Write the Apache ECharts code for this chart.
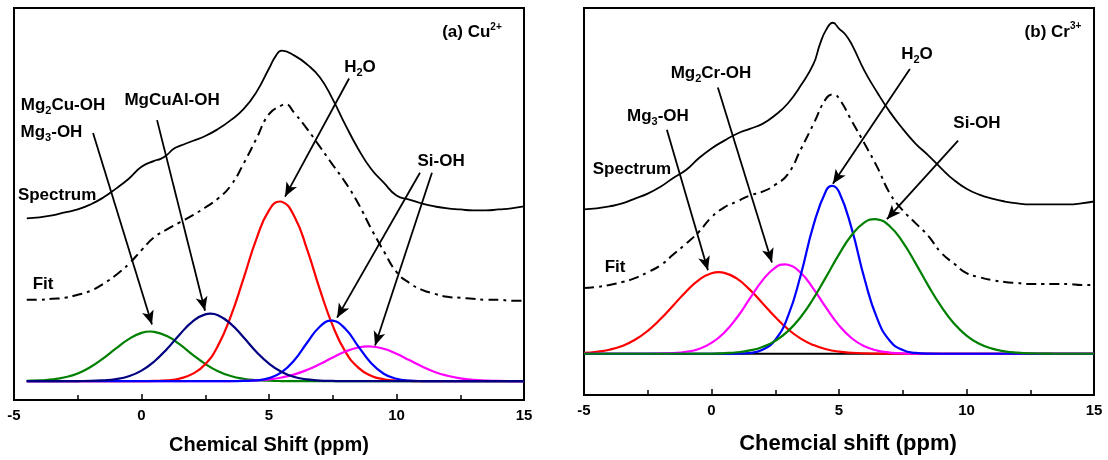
<!DOCTYPE html>
<html><head><meta charset="utf-8">
<script src="https://cdn.jsdelivr.net/npm/echarts@6/dist/echarts.min.js"></script>
<style>html,body{margin:0;padding:0;background:#fff}#c{width:1108px;height:460px}</style>
</head><body><div id="c"></div>
<script>
// ---------- Panel (a) Cu2+ : chemical shift grid (ppm) ----------
const xA = [-4.5,-4,-3.5,-3,-2.5,-2,-1.5,-1,-0.5,0,0.5,1,1.5,2,2.5,3,3.5,4,4.5,5,5.5,6,6.5,7,7.5,8,8.5,9,9.5,10,10.5,11,11.5,12,12.5,13,13.5,14,14.5,15];
const spectrumA = [183,184,186,189,192,197,204,213,223,235,241,247,256,261,266,273,282,293,310,334,352,347,338,325,303,277,253,233,219,206,202,198,195,193,192,191,191,192,193,195];
const fitA = [101,101,102,103,106,110,117,126,137,151,164,172,179,186,194,203,216,238,263,288,297,289,273,255,237,219,198,173,150,129,118,111,107,104,103,102,101,101,100,100];
const mg3OHA = [19.2,19.7,20.7,22.9,26.8,33.2,41.9,52.0,61.4,67.6,68.7,64.4,56.0,45.8,36.4,29.0,24.2,21.4,20.0,19.4,19.1,19,19,19,19,19,19,19,19,19,19,19,19,19,19,19,19,19,19,19];
const mgCuAlOHA = [19,19,19,19,19.1,19.2,19.8,21.1,24.0,29.6,38.8,51.5,66.1,79.0,86.3,85.4,76.7,63.2,48.7,36.6,28.2,23.2,20.7,19.6,19.2,19,19,19,19,19,19,19,19,19,19,19,19,19,19,19];
const h2oA = [19,19,19,19,19,19,19,19,19,19,19.2,19.8,21.6,26.3,36.0,54.8,84.2,122.3,161.8,191.1,199.8,184.6,151.2,111.0,74.9,48.5,32.6,24.5,20.9,19.6,19.2,19,19,19,19,19,19,19,19,19];
const siOH1A = [19,19,19,19,19,19,19,19,19,19,19,19,19,19,19,19,19,19.2,19.8,22.0,28.1,40.3,57.9,74.1,79.9,71.5,54.1,37.4,26.5,21.4,19.6,19.1,19,19,19,19,19,19,19,19];
const siOH2A = [19,19,19,19,19,19,19,19,19,19,19,19,19,19,19,19,19.1,19.3,19.8,20.8,22.7,25.8,30.4,36.3,42.9,48.9,52.9,53.9,51.6,46.6,40.2,33.8,28.3,24.4,21.8,20.3,19.6,19.2,19.1,19];
// extra readings near peaks / kinks (x, y)
const extraSpectrumA = [[0.75, 243], [1.25, 253], [5.25, 346]];
const extraFitA = [[5.65, 298]];
const extraMg3OHA = [[0.35, 69]];
const extraMgCuAlOHA = [[2.7, 87]];
const extraH2oA = [[5.43, 200]];
const extraSiOH1A = [[7.45, 80]];
const extraSiOH2A = [[8.9, 54]];

// ---------- Panel (b) Cr3+ ----------
const xB = [-5,-4.5,-4,-3.5,-3,-2.5,-2,-1.5,-1,-0.5,0,0.5,1,1.5,2,2.5,3,3.5,4,4.5,5,5.5,6,6.5,7,7.5,8,8.5,9,9.5,10,10.5,11,11.5,12,12.5,13,13.5,14,14.5,15];
const spectrumB = [189,190,192,195,200,205,212,221,229,241,251,259,266,271,276,285,297,315,337,372,373,357,330,308,288,271,256,244,231,219,210,204,200,197,195,194,194,194,194,195,197];
const fitB = [109,110,112,115,119,125,132,143,154,166,181,191,197,203,207,214,225,250,276,302,302,279,256,232,205,188,175,162,145,134,124,120,117,115,114,113,113,113,113,112,112];
const mg3OHB = [42.9,44.0,46.1,49.9,56.2,65.3,77.3,91.2,105.2,117.0,123.9,124.4,118.4,107.3,93.5,79.4,67.0,57.4,50.8,46.6,44.2,43.0,42.4,42.2,42,42,42,42,42,42,42,42,42,42,42,42,42,42,42,42,42];
const mg2CrOHB = [42,42,42,42,42,42,42.2,42.7,44.0,46.9,53.0,63.5,78.9,98.0,116.7,129.7,132.6,124.4,108.1,88.6,70.9,57.8,49.6,45.2,43.2,42.4,42.1,42,42,42,42,42,42,42,42,42,42,42,42,42,42];
const h2oB = [42,42,42,42,42,42,42,42,42,42,42,42,42.2,42.9,46.1,56.2,80.3,122.2,173.0,208.5,206.9,169.1,118.3,77.7,55.0,45.7,42.8,42.1,42,42,42,42,42,42,42,42,42,42,42,42,42];
const siOHB = [42,42,42,42,42,42,42,42,42,42,42,42.6,43.5,45.4,48.9,55.1,65.0,79.4,98.3,120.5,143.2,162.9,175.7,178.8,171.6,155.7,134.3,111.3,90.4,73.1,60.5,52.2,47.2,44.5,43.1,42.4,42.2,42,42,42,42];
const baseLevelB = 42;
const extraSpectrumB = [[4.25, 357], [4.76, 379], [5.25, 367]];
const extraFitB = [[4.78, 306]];
const extraMg3OHB = [[0.29, 125]];
const extraMg2CrOHB = [[2.88, 133]];
const extraH2oB = [[4.73, 213]];
const extraSiOHB = [[6.4, 179]];

// ---------- tick labels / annotations (data coordinates) ----------
const xTicks = [-5, 0, 5, 10, 15];
const arrowsA = [[-1.90,269,0.41,76],[0.61,282,2.49,90],[8.14,324,5.63,205],[10.92,229,7.67,83],[11.39,229,9.16,55]];
const labelsA = [
  ['{t|Mg}{s|2}{t|Cu-OH}', -3.08, 297],
  ['{t|Mg}{s|3}{t|-OH}', -3.53, 270],
  ['{t|MgCuAl-OH}', 1.20, 302],
  ['{t|H}{s|2}{t|O}', 8.57, 335],
  ['{t|Si-OH}', 11.75, 241],
  ['{t|Spectrum}', -3.31, 206],
  ['{t|Fit}', -3.86, 117],
  ['{t|(a) Cu}{p|2+}', 12.96, 370]
];
const arrowsB = [[-1.75,270,-0.14,127],[0.25,313,2.37,135],[7.78,332,4.76,215],[9.67,259,6.88,179]];
const labelsB = [
  ['{t|Mg}{s|3}{t|-OH}', -2.10, 284],
  ['{t|Mg}{s|2}{t|Cr-OH}', -0.02, 327],
  ['{t|H}{s|2}{t|O}', 8.06, 347],
  ['{t|Si-OH}', 10.41, 277],
  ['{t|Spectrum}', -3.12, 230],
  ['{t|Fit}', -3.78, 130],
  ['{t|(b) Cr}{p|3+}', 13.39, 369]
];

const FF = '"Liberation Sans", Arial, Helvetica, sans-serif';
const rich = {
  t: {fontSize: 17, fontWeight: 'bold', fontFamily: FF, color: '#000', lineHeight: 22},
  s: {fontSize: 11, fontWeight: 'bold', fontFamily: FF, color: '#000', lineHeight: 12, verticalAlign: 'bottom'},
  p: {fontSize: 10, fontWeight: 'bold', fontFamily: FF, color: '#000', lineHeight: 12, verticalAlign: 'top'}
};
const pairs = (xs, ys, extra) => xs.map((x, i) => [x, ys[i]]).concat(extra || []).sort((a, b) => a[0] - b[0]);

function curve(idx, xs, ys, extra, color, width, dash) {
  return {
    type: 'line', xAxisIndex: idx, yAxisIndex: idx, data: pairs(xs, ys, extra),
    showSymbol: false, symbol: 'none', smooth: 0.5, silent: true,
    lineStyle: {color: color, width: width, type: dash || 'solid'}
  };
}
function annot(s, arrows, labels) {
  s.markLine = {
    silent: true, symbol: ['none', 'arrow'], symbolSize: [9, 14], animation: false,
    label: {show: false}, lineStyle: {color: '#000', width: 1.8, type: 'solid'},
    emphasis: {disabled: true},
    data: arrows.map(a => [{coord: [a[0], a[1]]}, {coord: [a[2], a[3]]}])
  };
  s.markPoint = {
    silent: true, symbol: 'circle', symbolSize: 0, animation: false,
    itemStyle: {color: 'transparent'},
    label: {show: true, position: 'inside', formatter: p => p.name, rich: rich},
    data: labels.map(l => ({name: l[0], coord: [l[1], l[2]]}))
  };
  return s;
}
function xAx(idx, name, gap, size) {
  return {
    gridIndex: idx, type: 'value', min: -5, max: 15, interval: 5,
    axisLine: {show: false}, splitLine: {show: false},
    axisTick: {show: true, inside: true, length: 6, lineStyle: {color: '#000', width: 1.5}},
    minorTick: {show: true, splitNumber: 2, length: 5, lineStyle: {color: '#000', width: 1.5}},
    axisLabel: {color: '#000', fontSize: 15, fontWeight: 'bold', fontFamily: FF, margin: 8,
      formatter: v => xTicks.includes(v) ? String(v) : ''},
    name: name, nameLocation: 'middle', nameGap: gap,
    nameTextStyle: {color: '#000', fontSize: size, fontWeight: 'bold', fontFamily: FF,
      padding: idx === 1 ? [0, 0, 0, 18] : 0}
  };
}
function yAx(idx, max) {
  return {gridIndex: idx, type: 'value', min: 0, max: max, show: true,
    axisLine: {show: false}, axisTick: {show: false}, axisLabel: {show: false}, splitLine: {show: false}};
}

const DASHDOT = [10, 5, 3, 5];
const seriesA = [
  curve(0, xA, fitA, extraFitA, '#000', 2, DASHDOT),
  annot(curve(0, xA, spectrumA, extraSpectrumA, '#000', 1.8), arrowsA, labelsA),
  curve(0, xA, mg3OHA, extraMg3OHA, '#008000', 2.2),
  curve(0, xA, h2oA, extraH2oA, '#ff0000', 2.2),
  curve(0, xA, siOH2A, extraSiOH2A, '#ff00ff', 2.2),
  curve(0, xA, siOH1A, extraSiOH1A, '#0000ff', 2.2),
  curve(0, xA, mgCuAlOHA, extraMgCuAlOHA, '#000080', 2.2)
];
const seriesB = [
  curve(1, xB, xB.map(() => baseLevelB), [], '#000', 2),
  curve(1, xB, fitB, extraFitB, '#000', 2, DASHDOT),
  annot(curve(1, xB, spectrumB, extraSpectrumB, '#000', 1.8), arrowsB, labelsB),
  curve(1, xB, mg3OHB, extraMg3OHB, '#ff0000', 2.2),
  curve(1, xB, mg2CrOHB, extraMg2CrOHB, '#ff00ff', 2.2),
  curve(1, xB, h2oB, extraH2oB, '#0000ff', 2.2),
  curve(1, xB, siOHB, extraSiOHB, '#008000', 2.2)
];

const chart = echarts.init(document.getElementById('c'), null, {renderer: 'canvas'});
chart.setOption({
  animation: false,
  backgroundColor: '#fff',
  grid: [
    {left: 14, right: 584, top: 8, bottom: 57, show: true, borderColor: '#000', borderWidth: 2, backgroundColor: 'transparent'},
    {left: 584, right: 14, top: 8, bottom: 58, show: true, borderColor: '#000', borderWidth: 2, backgroundColor: 'transparent'}
  ],
  xAxis: [
    xAx(0, 'Chemical Shift (ppm)', 35, 20),
    xAx(1, 'Chemcial shift (ppm)', 38, 22)
  ],
  yAxis: [yAx(0, 395), yAx(1, 394)],
  series: seriesA.concat(seriesB)
});
</script></body></html>
